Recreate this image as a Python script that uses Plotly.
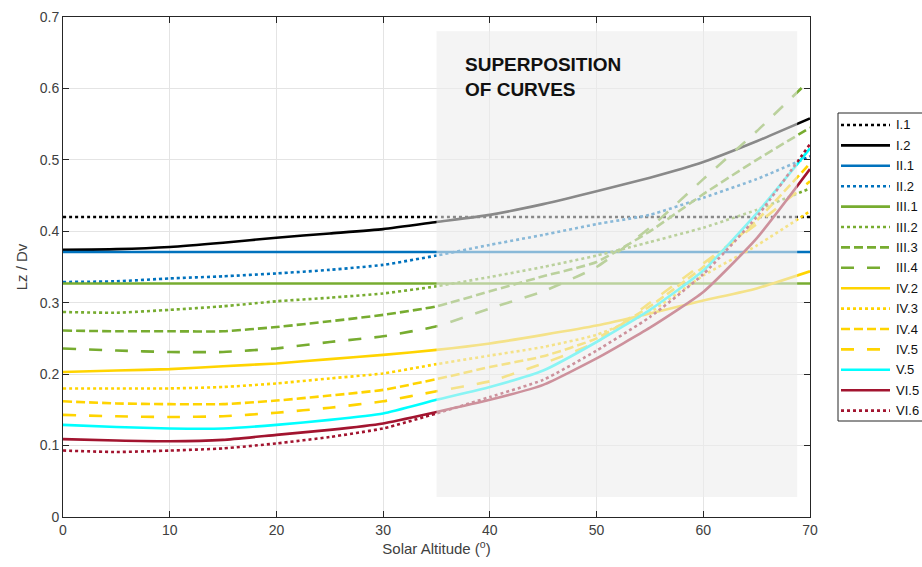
import plotly.graph_objects as go

# ---------------- data ----------------
altitude = [0, 5, 10, 15, 20, 25, 30, 35, 40, 45, 50, 55, 60, 65, 70]

names = ["I.1", "I.2", "II.1", "II.2", "III.1", "III.2", "III.3", "III.4",
         "IV.2", "IV.3", "IV.4", "IV.5", "V.5", "VI.5", "VI.6"]

I1 = [0.420, 0.420, 0.420, 0.420, 0.420, 0.420, 0.420, 0.420, 0.420, 0.420, 0.420, 0.420, 0.420, 0.420, 0.420]
I2 = [0.374, 0.375, 0.378, 0.384, 0.391, 0.397, 0.403, 0.413, 0.423, 0.438, 0.456, 0.475, 0.497, 0.526, 0.558]
II1 = [0.371, 0.371, 0.371, 0.371, 0.371, 0.371, 0.371, 0.371, 0.371, 0.371, 0.371, 0.371, 0.371, 0.371, 0.371]
II2 = [0.329, 0.330, 0.334, 0.337, 0.341, 0.346, 0.353, 0.366, 0.381, 0.395, 0.410, 0.423, 0.447, 0.473, 0.505]
III1 = [0.327, 0.327, 0.327, 0.327, 0.327, 0.327, 0.327, 0.327, 0.327, 0.327, 0.327, 0.327, 0.327, 0.327, 0.327]
III2 = [0.287, 0.286, 0.290, 0.295, 0.302, 0.307, 0.313, 0.323, 0.336, 0.350, 0.366, 0.385, 0.405, 0.430, 0.460]
III3 = [0.261, 0.260, 0.260, 0.260, 0.266, 0.274, 0.283, 0.295, 0.316, 0.337, 0.357, 0.400, 0.452, 0.500, 0.545]
III4 = [0.236, 0.233, 0.231, 0.231, 0.236, 0.245, 0.253, 0.267, 0.292, 0.316, 0.350, 0.405, 0.473, 0.540, 0.612]
IV2 = [0.203, 0.205, 0.207, 0.211, 0.215, 0.221, 0.227, 0.234, 0.243, 0.255, 0.268, 0.285, 0.303, 0.320, 0.344]
IV3 = [0.180, 0.180, 0.180, 0.182, 0.187, 0.194, 0.201, 0.214, 0.226, 0.238, 0.255, 0.287, 0.338, 0.380, 0.428]
IV4 = [0.162, 0.159, 0.158, 0.158, 0.163, 0.170, 0.178, 0.193, 0.210, 0.225, 0.250, 0.295, 0.350, 0.415, 0.495]
IV5 = [0.143, 0.141, 0.140, 0.141, 0.146, 0.153, 0.162, 0.176, 0.190, 0.215, 0.245, 0.300, 0.355, 0.410, 0.470]
V5 = [0.129, 0.126, 0.124, 0.124, 0.129, 0.136, 0.145, 0.164, 0.182, 0.205, 0.245, 0.290, 0.345, 0.425, 0.516]
VI5 = [0.109, 0.107, 0.106, 0.108, 0.115, 0.122, 0.131, 0.147, 0.164, 0.185, 0.222, 0.265, 0.315, 0.390, 0.487]
VI6 = [0.093, 0.091, 0.093, 0.096, 0.103, 0.112, 0.124, 0.145, 0.168, 0.192, 0.233, 0.280, 0.340, 0.420, 0.522]

series = [I1, I2, II1, II2, III1, III2, III3, III4, IV2, IV3, IV4, IV5, V5, VI5, VI6]

x_ticks = [0, 10, 20, 30, 40, 50, 60, 70]
y_ticks = [0, 0.1, 0.2, 0.3, 0.4, 0.5, 0.6, 0.7]

# superposition zone (data coordinates)
zone_x = [35, 68.8]
zone_y = [0.028, 0.68]

# ---------------- styles ----------------
BLACK = "#000000"
BLUE = "#0072BD"
GREEN = "#77AC30"
YELLOW = "#FFD400"
CYAN = "#00FFFF"
RED = "#A2142F"
colors = [BLACK, BLACK, BLUE, BLUE, GREEN, GREEN, GREEN, GREEN,
          YELLOW, YELLOW, YELLOW, YELLOW, CYAN, RED, RED]
DOT = "dot"
MED = "9px,4px"
LONG = "13px,13px"
dashes = ["dot", "solid", "solid", DOT, "solid", DOT, MED, LONG,
          "solid", DOT, MED, LONG, "solid", "solid", DOT]
LW = 2.6

W, H = 922, 567
ML, MR, MT, MB = 63, 112, 17, 50
PW, PH = W - ML - MR, H - MT - MB


def px_x(p):
    return (p - ML) / PW


def px_y(p):
    return (H - MB - p) / PH


fig = go.Figure()
for name, ys, c, d in zip(names, series, colors, dashes):
    fig.add_trace(go.Scatter(
        x=altitude, y=ys, name=name, mode="lines", showlegend=False,
        line=dict(color=c, width=LW, dash=d, shape="spline", smoothing=0.5),
    ))

fig.add_shape(type="rect", xref="x", yref="y",
              x0=zone_x[0], x1=zone_x[1], y0=zone_y[0], y1=zone_y[1],
              fillcolor="rgba(236,236,236,0.58)", line=dict(width=0),
              layer="above")

fig.add_annotation(x=37.5, y=0.651, xref="x", yref="y",
                   text="<b>SUPERPOSITION<br>OF CURVES</b>",
                   showarrow=False, xanchor="left", yanchor="top", align="left",
                   font=dict(family="Liberation Sans, Arial, sans-serif", size=19, color="#111111"))

# ---------------- legend box (drawn) ----------------
leg_left, leg_top, leg_bottom = 838, 113, 421
row0, row_step = 125, 20.4
fig.add_shape(type="rect", xref="paper", yref="paper",
              x0=px_x(leg_left), x1=px_x(W + 5), y0=px_y(leg_bottom), y1=px_y(leg_top),
              fillcolor="white", line=dict(color="#262626", width=1), layer="above")
for i, (name, c, d) in enumerate(zip(names, colors, dashes)):
    yy = px_y(row0 + i * row_step)
    fig.add_shape(type="line", xref="paper", yref="paper",
                  x0=px_x(841), x1=px_x(890), y0=yy, y1=yy,
                  line=dict(color=c, width=LW, dash=d), layer="above")
    fig.add_annotation(x=px_x(894), y=yy, xref="paper", yref="paper",
                       text=name, showarrow=False, xanchor="left", yanchor="middle",
                       font=dict(family="Liberation Sans, Arial, sans-serif", size=13, color="#111111"))

axis_font = dict(family="Liberation Sans Narrow, Arial Narrow, Liberation Sans, sans-serif",
                 size=14, color="#404040")
title_font = dict(family=axis_font["family"], size=15, color="#404040")

fig.update_layout(
    width=W, height=H,
    margin=dict(l=ML, r=MR, t=MT, b=MB, autoexpand=False),
    paper_bgcolor="white", plot_bgcolor="white",
    showlegend=False,
    xaxis=dict(range=[0, 70], tickvals=x_ticks, ticks="inside", ticklen=6,
               tickcolor="#262626", showline=True, linecolor="#262626", linewidth=1,
               mirror="ticks", showgrid=True, gridcolor="#e4e4e4", gridwidth=1,
               zeroline=False, tickfont=axis_font,
               title=dict(text="Solar Altitude (<sup>o</sup>)", font=title_font, standoff=4)),
    yaxis=dict(range=[0, 0.7], tickvals=y_ticks, ticks="inside", ticklen=6,
               tickcolor="#262626", showline=True, linecolor="#262626", linewidth=1,
               mirror="ticks", showgrid=True, gridcolor="#e4e4e4", gridwidth=1,
               zeroline=False, tickfont=axis_font,
               title=dict(text="Lz / Dv", font=title_font, standoff=8)),
)

fig.write_html("out.html")
